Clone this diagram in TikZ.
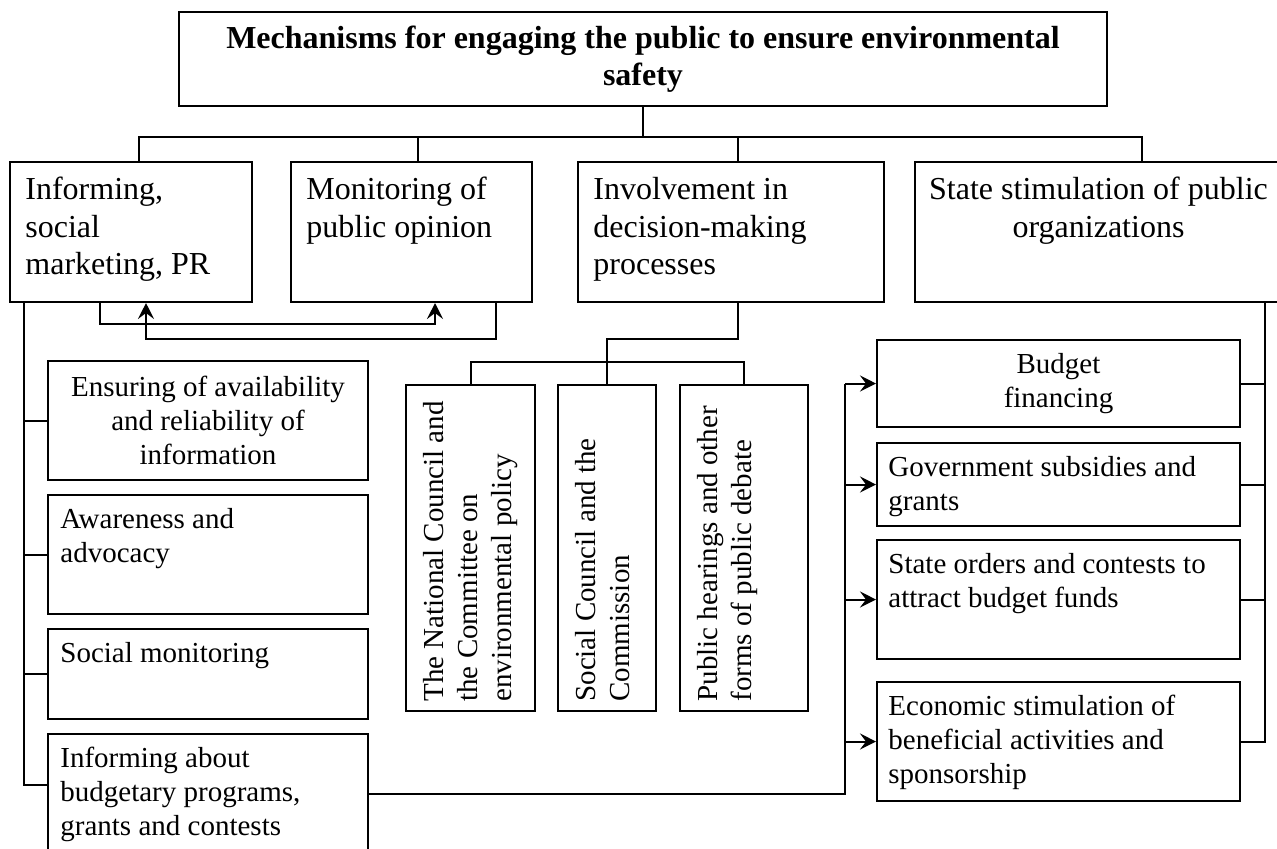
\documentclass[tikz,border=0pt]{standalone}
\usepackage{fontspec}
\setmainfont{Liberation Serif}
\usetikzlibrary{arrows.meta,calc}

\tikzset{
  box/.style={draw,line width=1pt,inner sep=0pt,anchor=north west},
  bigtxt/.style={font=\fontsize{16}{18.75}\selectfont,inner sep=0pt},
  txt/.style={font=\fontsize{14.5}{17}\selectfont,inner sep=0pt},
  link/.style={line width=1pt},
  arr/.style={line width=1pt,-{Stealth[length=8pt,width=8pt,inset=3pt]}}
}

\begin{document}
\begin{tikzpicture}[x=0.5pt,y=-0.5pt]
  \useasboundingbox (0,0) rectangle (1277,848);
  \clip (0,0) rectangle (1277,848);

  % top
  \node[box,minimum width=464pt,minimum height=47pt,align=center,font=\bfseries\fontsize{16}{18.5}\selectfont] (title) at (178,11) {Mechanisms for engaging the public to ensure environmental\\safety};

  % first level
  \node[box,minimum width=121pt,minimum height=70pt] (inf) at (9,161) {};
  \node[box,minimum width=120.5pt,minimum height=70pt] (mon) at (290,161) {};
  \node[box,minimum width=153pt,minimum height=70pt] (inv) at (577,161) {};
  \node[box,minimum width=183.5pt,minimum height=70pt] (sta) at (914,161) {};
  \node[bigtxt,align=left,anchor=north west] (infT) at ([shift={(8pt,-8pt)}]inf.north west) {Informing,\\social\\marketing, PR};
  \node[bigtxt,align=left,anchor=north west] (monT) at ([shift={(8pt,-8pt)}]mon.north west) {Monitoring of\\public opinion};
  \node[bigtxt,align=left,anchor=north west] (invT) at ([shift={(8pt,-8pt)}]inv.north west) {Involvement in\\decision-making\\processes};
  \node[bigtxt,align=center,anchor=north] (staT) at ([yshift=-8pt]sta.north) {State stimulation of public\\organizations};

  % left column
  \node[box,txt,minimum width=160pt,minimum height=59.5pt,align=center] (ens) at (47,360) {Ensuring of availability\\and reliability of\\information};
  \node[box,minimum width=160pt,minimum height=59.5pt] (awa) at (47,494) {};
  \node[box,minimum width=160pt,minimum height=45pt] (soc) at (47,628) {};
  \node[box,minimum width=160pt,minimum height=60pt] (bud) at (47,733) {};
  \node[txt,align=left,anchor=north west] (awaT) at ([shift={(6.5pt,-7pt)}]awa.north west) {Awareness and\\advocacy};
  \node[txt,align=left,anchor=north west] (socT) at ([shift={(6.5pt,-7pt)}]soc.north west) {Social monitoring};
  \node[txt,align=left,anchor=north west] (budT) at ([shift={(6.5pt,-7pt)}]bud.north west) {Informing about\\budgetary programs,\\grants and contests};

  % middle column
  \node[box,minimum width=64.5pt,minimum height=163pt] (nat) at (405,384) {};
  \node[box,minimum width=49pt,minimum height=163pt] (scc) at (557,384) {};
  \node[box,minimum width=64pt,minimum height=163pt] (pub) at (679,384) {};
  \node[txt,align=left,rotate=90,anchor=north west] (natT) at ([shift={(9pt,5pt)}]nat.south west) {The National Council and\\the Committee on\\environmental policy};
  \node[txt,align=left,rotate=90,anchor=north west] (sccT) at ([shift={(9pt,5pt)}]scc.south west) {Social Council and the\\Commission};
  \node[txt,align=left,rotate=90,anchor=north west] (pubT) at ([shift={(9pt,5pt)}]pub.south west) {Public hearings and other\\forms of public debate};

  % right column
  \node[box,txt,minimum width=181.5pt,minimum height=43.5pt,align=center] (bfin) at (876,339) {Budget\\financing};
  \node[box,minimum width=181.5pt,minimum height=41.5pt] (gov) at (876,442) {};
  \node[box,minimum width=181.5pt,minimum height=59.5pt] (ord) at (876,539) {};
  \node[box,minimum width=181.5pt,minimum height=59.5pt] (eco) at (876,681) {};
  \node[txt,align=left,anchor=north west] (govT) at ([shift={(6pt,-7pt)}]gov.north west) {Government subsidies and\\grants};
  \node[txt,align=left,anchor=north west] (ordT) at ([shift={(6pt,-7pt)}]ord.north west) {State orders and contests to\\attract budget funds};
  \node[txt,align=left,anchor=north west] (ecoT) at ([shift={(6pt,-7pt)}]eco.north west) {Economic stimulation of\\beneficial activities and\\sponsorship};

  % connectors
  \draw[link] (title.south) -- ++(0,30) coordinate (bar);
  \foreach \nd/\dx in {inf/65,mon/63.75,inv/80.5,sta/114}
    \draw[link] (bar) -| ([xshift=\dx pt]\nd.north west);

  \draw[arr] ([xshift=45.5pt]inf.south west) -- ++(0,21) -| ([xshift=72.5pt]mon.south west);
  \draw[arr] ([xshift=103pt]mon.south west) -- ++(0,36) -| ([xshift=68.5pt]inf.south west);

  \coordinate (mj) at ([yshift=11pt]scc.north);
  \draw[link] ([xshift=80.5pt]inv.south west) -- ++(0,36) -| (mj);
  \draw[link] (nat.north) |- (mj) -| (pub.north);
  \draw[link] (mj) -- (scc.north);

  \coordinate (lv) at ([xshift=7.5pt]inf.south west);
  \draw[link] (lv) |- ([yshift=4.5pt]bud.west);
  \foreach \nd in {ens,awa,soc}
    \draw[link] (lv|-\nd.west) -- (\nd.west);

  \coordinate (rv) at ([xshift=-9pt]sta.south east);
  \draw[link] (rv) |- (eco.east);
  \foreach \nd in {bfin,gov,ord}
    \draw[link] (\nd.east) -- (\nd.east-|rv);

  \draw[link] (bud.east) -| ([xshift=-15.5pt]bfin.west);
  \foreach \nd in {bfin,gov,ord,eco}
    \draw[arr] ([xshift=-15.5pt]\nd.west) -- (\nd.west);
\end{tikzpicture}
\end{document}
